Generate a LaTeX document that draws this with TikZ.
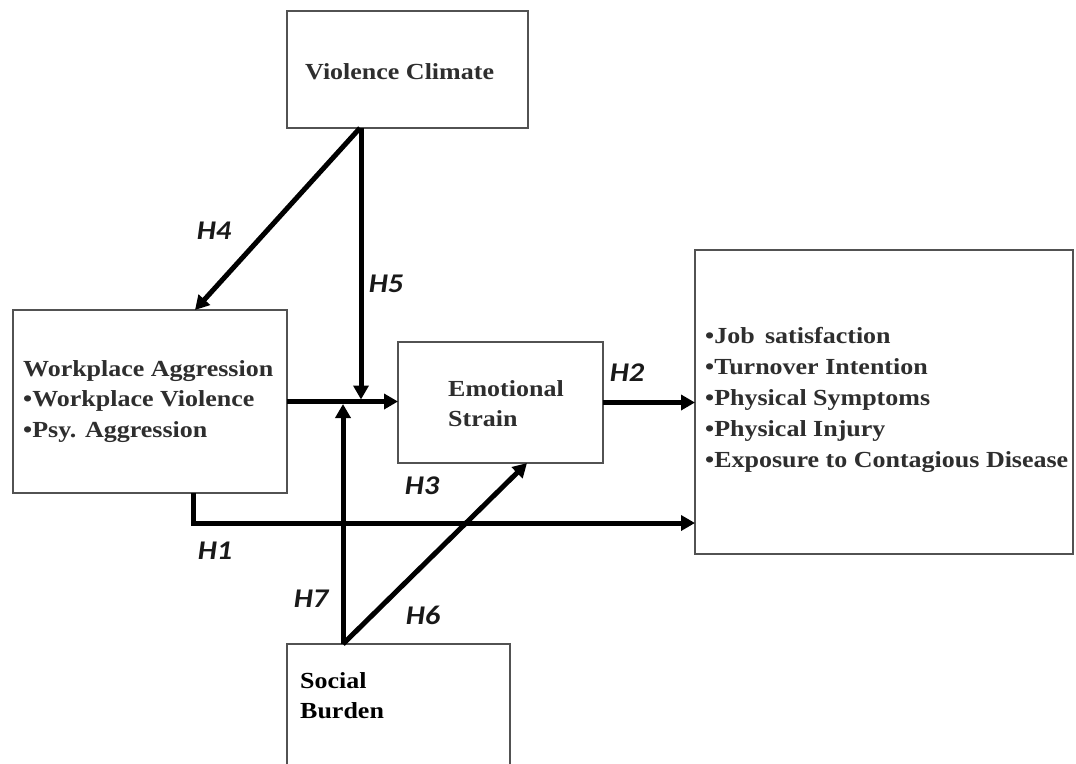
\documentclass[tikz,border=0pt]{standalone}
\usepackage{fontspec}
\newfontfamily\boxfont{Liberation Serif}[FakeStretch=1.13]
\newfontfamily\hfont{Carlito}[FakeStretch=1.12]
\usetikzlibrary{arrows.meta,calc}
\begin{document}
\begin{tikzpicture}[x=1pt,y=-1pt,
  box/.style={draw=black!68, line width=1.4pt, fill=white, anchor=north west, inner sep=0pt, outer sep=0pt},
  conn/.style={line width=5pt, line join=miter, -{Triangle[length=14pt,width=15pt]}},
  lbl/.style={font=\hfont\bfseries\itshape\fontsize{27}{27}\selectfont, text=black!90, inner sep=0pt},
  txt/.style={font=\boxfont\bfseries\fontsize{23}{30.5}\selectfont, text=black!82, align=left, anchor=north west, inner sep=0pt},
]
\useasboundingbox (0,0) rectangle (1076,763);
\clip (0,0) rectangle (1076,763);
% boxes
\node[box, minimum width=241pt, minimum height=117pt] (vc) at (287,11) {};
\node[box, minimum width=274pt, minimum height=183pt] (wa) at (13,310) {};
\node[box, minimum width=205pt, minimum height=121pt] (es) at (398,342) {};
\node[box, minimum width=378pt, minimum height=304pt] (out) at (695,250) {};
\node[box, minimum width=223pt, minimum height=140pt] (sb) at (287,644) {};
% texts
\node[txt] (vct) at (305,63) {Violence Climate};
\node[txt] (wat) at (23,360) {Workplace Aggression\\\textbullet Workplace Violence\\\textbullet Psy. Aggression};
\node[txt] (est) at (448,380) {Emotional\\Strain};
\node[txt, font=\boxfont\bfseries\fontsize{23}{31}\selectfont] (outt) at (705,327) {\textbullet Job\, satisfaction\\\textbullet Turnover Intention\\\textbullet Physical Symptoms\\\textbullet Physical Injury\\\textbullet Exposure to Contagious Disease};
\node[txt, text=black] (sbt) at (300,672) {Social\\Burden};
% connectors
\draw[conn] ($(vc.south west)+(73,0)$) -- ($(wa.north west)+(182,0)$);
\draw[conn] ($(vc.south west)+(74,0)$) -- ($(wa.east)+(74,-2)$);
\draw[conn] (wa.east) -- (wa.east -| es.west);
\draw[conn] (es.east) -- (es.east -| out.west);
\draw[conn] ($(wa.south west)+(180,0)$) |- ($(out.south west)+(0,-31)$);
\draw[conn] ($(sb.north west)+(56,0)$) -- ($(sb.north west)+(56,-240)$);
\draw[conn] ($(sb.north west)+(56,0)$) -- ($(es.south west)+(129,0)$);
% labels
\node[lbl] (h4) at (214,231) {H4};
\node[lbl] (h5) at (386,284) {H5};
\node[lbl] (h2) at (627,373) {H2};
\node[lbl] (h3) at (422,486) {H3};
\node[lbl] (h1) at (215,551) {H1};
\node[lbl] (h7) at (311,599) {H7};
\node[lbl] (h6) at (423,615) {H6};
\end{tikzpicture}
\end{document}
